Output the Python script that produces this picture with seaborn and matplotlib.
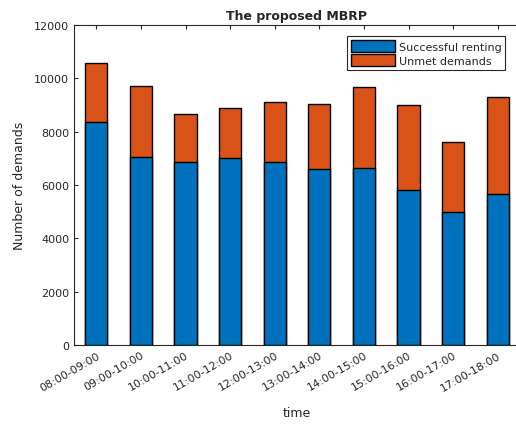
import matplotlib
matplotlib.use("Agg")
import matplotlib.pyplot as plt
import seaborn as sns
import pandas as pd

periods = ["08:00-09:00", "09:00-10:00", "10:00-11:00", "11:00-12:00", "12:00-13:00",
           "13:00-14:00", "14:00-15:00", "15:00-16:00", "16:00-17:00", "17:00-18:00"]
successful = [8375, 7040, 6850, 7025, 6850, 6600, 6650, 5825, 4975, 5675]
unmet = [2200, 2660, 1825, 1875, 2250, 2425, 3010, 3175, 2625, 3625]

total = [s + u for s, u in zip(successful, unmet)]
df = pd.DataFrame({"time": periods, "success": successful, "total": total})

sns.set_style("white")
plt.rcParams["font.family"] = ["DejaVu Sans"]

blue = "#0072BD"
orange = "#D95319"
tick_col = "#262626"

fig = plt.figure(figsize=(5.16, 4.27), dpi=100)
ax = fig.add_axes([74 / 516, 1 - 346 / 427, 446 / 516, 320 / 427])

sns.barplot(data=df, x="time", y="total", color=orange, saturation=1, width=0.5,
            edgecolor="black", linewidth=1.0, ax=ax, label="Unmet demands")
sns.barplot(data=df, x="time", y="success", color=blue, saturation=1, width=0.5,
            edgecolor="black", linewidth=1.0, ax=ax, label="Successful renting")

ax.set_xlim(-0.5, 9.5)
ax.set_ylim(0, 12000)
ax.set_yticks(range(0, 12001, 2000))
ax.set_xticks(range(len(periods)))
ax.set_xticklabels(periods, rotation=30, ha="right", rotation_mode="anchor")

ax.tick_params(direction="in", length=3, width=0.8, colors=tick_col, labelsize=8,
               top=True, right=True, bottom=True, left=True)
for s in ax.spines.values():
    s.set_visible(True)
    s.set_color(tick_col)
    s.set_linewidth(0.8)

ax.set_title("The proposed MBRP", fontsize=9, fontweight="bold", pad=4)
ax.set_xlabel("time", fontsize=9, color=tick_col, labelpad=10)
ax.set_ylabel("Number of demands", fontsize=9, color=tick_col, labelpad=6)

handles, labels = ax.get_legend_handles_labels()
order = [labels.index("Successful renting"), labels.index("Unmet demands")]
leg = ax.legend([handles[i] for i in order], [labels[i] for i in order],
                loc="upper right", bbox_to_anchor=(0.967, 0.965), fontsize=8,
                frameon=True, fancybox=False, edgecolor=tick_col, framealpha=1,
                handlelength=4.0, handleheight=1.3, handletextpad=0.3,
                borderpad=0.35, labelspacing=0.15, borderaxespad=0)
leg.get_frame().set_linewidth(0.8)

fig.savefig("out.png", dpi=100)
